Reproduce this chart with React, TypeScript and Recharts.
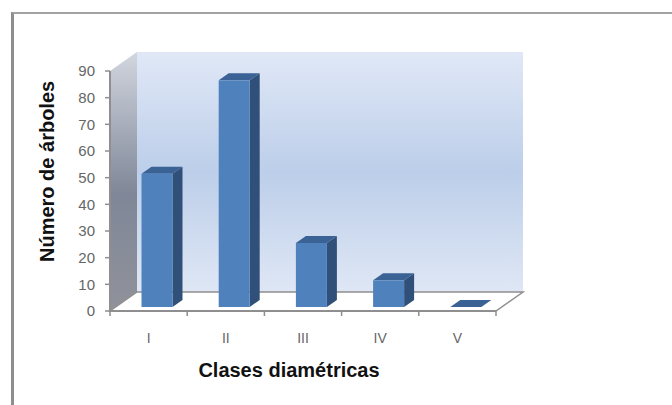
import { BarChart, Bar, XAxis, YAxis, usePlotArea } from 'recharts'

const categories = ['I', 'II', 'III', 'IV', 'V']
const trees = [50, 85, 24, 10, 0]
const yTicks = [0, 10, 20, 30, 40, 50, 60, 70, 80, 90]

const data = categories.map((clase, i) => ({ clase, arboles: trees[i] }))

// fake 3D: how far the back wall sits from the front axes
const WALL_DX = 27
const WALL_DY = 19
// bars stand in the middle of the floor
const BAR_DX = 8.5
const BAR_DY = 4
const SIDE_DX = 10
const SIDE_DY = 7
const LINE = '#8f8f8f'

function Walls() {
  const plot = usePlotArea()
  if (!plot) return null
  const { x, y, width, height } = plot
  const right = x + width
  const bottom = y + height
  const band = width / categories.length
  return (
    <g>
      <defs>
        <linearGradient id="backWall" x1="0" y1="0" x2="0" y2="1">
          <stop offset="0" stopColor="#e0e8f7" />
          <stop offset="0.5" stopColor="#bccee9" />
          <stop offset="1" stopColor="#dfe7f5" />
        </linearGradient>
        <linearGradient id="sideWall" x1="0" y1="0" x2="0" y2="1">
          <stop offset="0" stopColor="#d2d6df" />
          <stop offset="0.55" stopColor="#7f8798" />
          <stop offset="1" stopColor="#90929a" />
        </linearGradient>
      </defs>
      <rect x={x + WALL_DX} y={y - WALL_DY} width={width} height={height} fill="url(#backWall)" />
      <polygon
        points={`${x},${y} ${x + WALL_DX},${y - WALL_DY} ${x + WALL_DX},${bottom - WALL_DY} ${x},${bottom}`}
        fill="url(#sideWall)"
      />
      <polygon
        points={`${x},${bottom} ${x + WALL_DX},${bottom - WALL_DY} ${right + WALL_DX},${bottom - WALL_DY} ${right},${bottom}`}
        fill="#ffffff"
        stroke={LINE}
        strokeWidth={1.5}
      />
      {categories.concat('').map((_, i) => (
        <line
          key={i}
          x1={x + band * i}
          x2={x + band * i}
          y1={bottom}
          y2={bottom + 5}
          stroke={LINE}
          strokeWidth={1.5}
        />
      ))}
    </g>
  )
}

function Bar3D(props: any) {
  const { x, y, width, height } = props
  const left = x + BAR_DX
  const right = left + width
  const top = y - BAR_DY
  const base = top + height
  return (
    <g>
      <polygon
        points={`${right},${top} ${right + SIDE_DX},${top - SIDE_DY} ${right + SIDE_DX},${base - SIDE_DY} ${right},${base}`}
        fill="#305079"
      />
      <polygon
        points={`${left},${top} ${left + SIDE_DX},${top - SIDE_DY} ${right + SIDE_DX},${top - SIDE_DY} ${right},${top}`}
        fill="#3a6294"
      />
      {height > 0 && <rect x={left} y={top} width={width} height={height} fill="#4f81bd" />}
    </g>
  )
}

export default function App() {
  return (
    <div
      style={{
        position: 'absolute',
        left: 0,
        top: 0,
        width: 672,
        height: 405,
        background: '#fff',
        overflow: 'hidden',
      }}
    >
      {/* frame of the chart area, only top and left edges are in view */}
      <div
        style={{
          position: 'absolute',
          left: 11,
          top: 12,
          right: 0,
          bottom: 0,
          borderTop: '2px solid #a3a3a3',
          borderLeft: '3px solid #8e8e8e',
        }}
      />
      <BarChart
        width={672}
        height={405}
        data={data}
        margin={{ top: 71, right: 176, bottom: 0, left: 0 }}
        style={{ position: 'absolute', left: 0, top: 0 }}
      >
        <Walls />
        <XAxis
          dataKey="clase"
          height={94}
          tickLine={false}
          axisLine={{ stroke: LINE, strokeWidth: 2 }}
          tickMargin={16}
          tick={{ fill: '#666666', fontSize: 14, fontFamily: 'Liberation Sans' }}
          label={{
            value: 'Clases diamétricas',
            position: 'insideBottom',
            offset: 28,
            dx: -14,
            fill: '#111',
            fontSize: 20,
            fontWeight: 'bold',
            fontFamily: 'Liberation Sans',
          }}
        />
        <YAxis
          width={110}
          domain={[0, 90]}
          ticks={yTicks}
          interval={0}
          tickSize={5}
          tickMargin={10}
          tickLine={{ stroke: LINE, strokeWidth: 1.5 }}
          axisLine={{ stroke: LINE, strokeWidth: 2 }}
          tick={{ fill: '#666666', fontSize: 15, fontFamily: 'Liberation Sans' }}
          label={{
            value: 'Número de árboles',
            angle: -90,
            position: 'insideLeft',
            offset: 47,
            dy: 71,
            fill: '#111',
            fontSize: 20,
            fontWeight: 'bold',
            fontFamily: 'Liberation Sans',
          }}
        />
        <Bar dataKey="arboles" barSize={31} shape={Bar3D} isAnimationActive={false} />
      </BarChart>
    </div>
  )
}
